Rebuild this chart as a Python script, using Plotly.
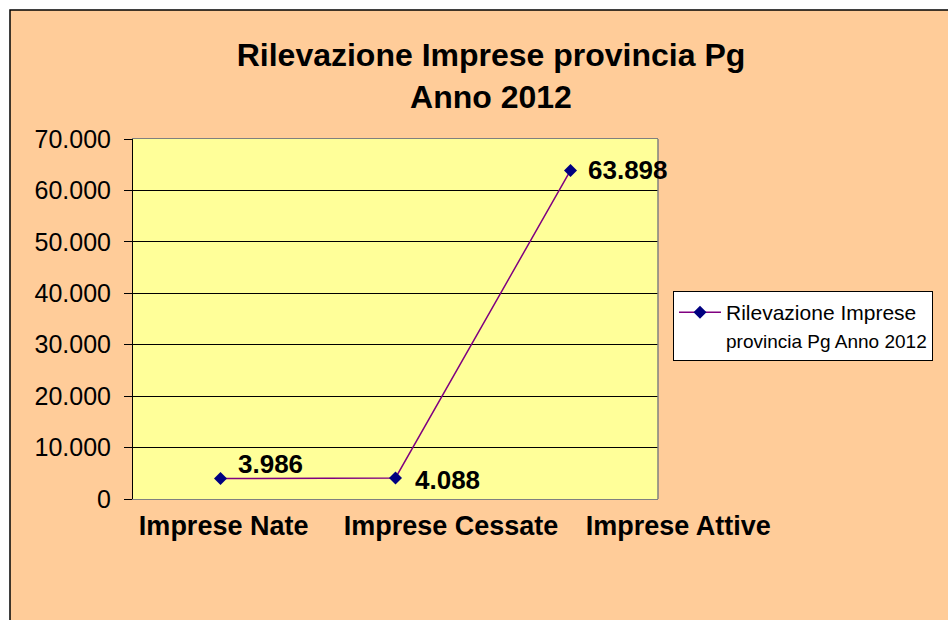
import plotly.graph_objects as go

categories = ["Imprese Nate", "Imprese Cessate", "Imprese Attive"]
values = [3986, 4088, 63898]
label_shifts = [(15, 15), (17, -2), (15, 0)]   # pixel offsets of the value labels
series_name = "Rilevazione Imprese<br><span style='font-size:19px'>provincia Pg Anno 2012</span>"
title_text = "<b>Rilevazione Imprese provincia Pg<br>Anno 2012</b>"
y_ticks = [0, 10000, 20000, 30000, 40000, 50000, 60000, 70000]

W, H = 948, 620
FONT = "Liberation Sans, Arial, sans-serif"

# layout geometry in pixels
L, R = 60, 60                 # horizontal margins of the paper area
px0, px1 = 133, 658           # plot area
py0, py1 = 139, 499
lab0, lab1 = 110, 792         # span of the category label axis (labels spread wider)
PW = W - L - R
ph = py1 - py0


def fx(px):
    return (px - L) / PW


def fy(py):
    return (py1 - py) / ph


def fmt(v):
    return f"{v:,}".replace(",", ".")


fig = go.Figure()
# invisible copy on the label axis so that the category labels get drawn there
fig.add_trace(go.Scatter(
    x=categories, y=values, xaxis="x2", yaxis="y2", mode="markers",
    marker=dict(opacity=0, size=1), showlegend=False, hoverinfo="skip",
))
fig.add_trace(go.Scatter(
    x=categories, y=values, mode="lines+markers",
    name=series_name,
    line=dict(color="#800080", width=1.5),
    marker=dict(symbol="diamond", size=10, color="#000080"),
    cliponaxis=False,
))

annotations = []
for c, v, (dx, dy) in zip(categories, values, label_shifts):
    annotations.append(dict(
        x=c, y=v, xref="x", yref="y", text=f"<b>{fmt(v)}</b>",
        showarrow=False, xanchor="left", yanchor="middle",
        xshift=dx, yshift=dy,
        font=dict(family=FONT, size=26, color="black"),
    ))

fig.update_layout(
    width=W, height=H,
    margin=dict(l=L, r=R, t=py0, b=H - py1, autoexpand=False),
    paper_bgcolor="white",
    plot_bgcolor="rgba(0,0,0,0)",
    separators=",.",
    font=dict(family=FONT, color="black"),
    title=dict(text=title_text, x=491 / W, xanchor="center",
               y=1 - 66 / H, yanchor="top", yref="container", xref="container",
               font=dict(family=FONT, size=32, color="black")),
    showlegend=True,
    legend=dict(x=fx(673), xanchor="left", y=fy(291), yanchor="top",
                bgcolor="white", bordercolor="black", borderwidth=1,
                valign="top", itemwidth=42,
                font=dict(family=FONT, size=21, color="black")),
    xaxis=dict(domain=[fx(px0), fx(px1)], range=[-0.5, 2.5],
               showgrid=False, automargin=False, showticklabels=False,
               showline=True, linecolor="#808080", linewidth=1, mirror=True,
               ticks=""),
    xaxis2=dict(domain=[fx(lab0), fx(lab1)], anchor="y2", type="category",
                range=[-0.5, 2.5],
                showgrid=False, zeroline=False, showline=False, automargin=False,
                ticks="", ticklabelstandoff=8, tickangle=0, fixedrange=True,
                tickfont=dict(family=FONT, size=27, color="black", weight="bold")),
    yaxis=dict(range=[0, 70000], automargin=False,
               tickvals=y_ticks, tickformat=",d",
               showgrid=True, gridcolor="black", gridwidth=1, zeroline=False,
               showline=True, linecolor="black", linewidth=1,
               ticks="outside", ticklen=8, tickcolor="black",
               ticklabelstandoff=8,
               tickfont=dict(family=FONT, size=25, color="black")),
    yaxis2=dict(range=[0, 70000], anchor="x2", domain=[0, 1],
                showgrid=False, zeroline=False, showline=False,
                showticklabels=False, ticks="", automargin=False, fixedrange=True),
    annotations=annotations,
    shapes=[
        dict(type="rect", xref="paper", yref="paper",
             x0=fx(10), x1=fx(970), y0=fy(640), y1=fy(10),
             fillcolor="#FFCC99", line=dict(color="black", width=1.5),
             layer="below"),
        dict(type="rect", xref="paper", yref="paper",
             x0=fx(px0), x1=fx(px1), y0=0, y1=1,
             fillcolor="#FFFF99", line=dict(width=0), layer="below"),
        dict(type="line", xref="paper", yref="paper",
             x0=fx(px1), x1=fx(px1), y0=0, y1=1,
             line=dict(color="#808080", width=1.5), layer="above"),
    ],
)

fig.write_html("out.html", config={"displayModeBar": False},
               post_script="document.body.style.margin='0px';document.body.style.overflow='hidden';")
